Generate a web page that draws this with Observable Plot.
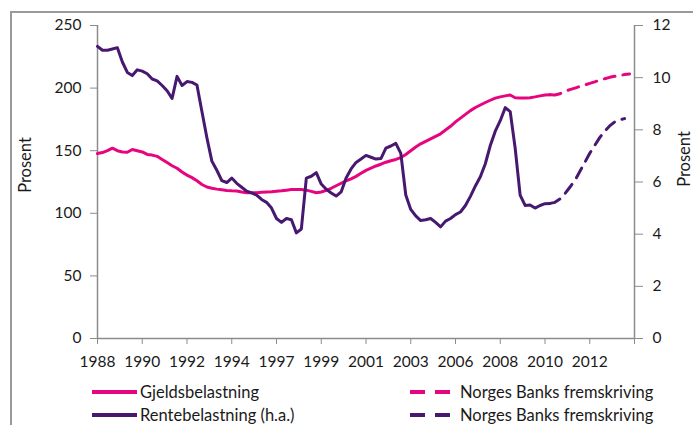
<!DOCTYPE html>
<html>
<head>
<meta charset="utf-8">
<script src="https://cdn.jsdelivr.net/npm/d3@7"></script>
<script src="https://cdn.jsdelivr.net/npm/@observablehq/plot@0.6"></script>
<style>
  body { margin: 0; background: #fff; font-family: Lato, "Open Sans", sans-serif; }
  #wrap { position: relative; width: 693px; height: 425px; overflow: hidden; background: #fff; }
  #frame { position: absolute; left: 10px; top: 11px; width: 720px; height: 440px;
           border-top: 2px solid #9a9a9a; border-left: 2px solid #9a9a9a; pointer-events: none; }
  #chart { position: absolute; left: 0; top: 0; }
  .leg { position: absolute; height: 20px; line-height: 20px; font: 16.5px Lato, sans-serif;
         color: #1a1a1a; display: flex; align-items: center; white-space: nowrap; }
  .leg svg { display: block; }
</style>
</head>
<body>
<div id="wrap">
  <div id="chart"></div>
  <div id="frame"></div>
  <div id="legend"></div>
</div>
<script>
// ---- data (quarterly, from 1988 Q1) ----
const xTickLabels = ["1988","1990","1992","1994","1997","1999","2001","2003","2006","2008","2010","2012"];
const leftTicks = [0, 50, 100, 150, 200, 250];
const rightTicks = [0, 2, 4, 6, 8, 10, 12];

// Gjeldsbelastning (venstre akse), 1988K1 - 2010K4
const gjeld = [147.7, 148.5, 150, 152, 150, 149, 148.8, 151, 150, 149,
  147, 146.5, 145.5, 143, 140.5, 138, 136, 133, 130.5, 128.5,
  126, 123, 121, 120, 119.3, 118.8, 118.3, 118, 117.8, 117,
  116.5, 116.4, 116.5, 116.8, 117, 117.2, 117.6, 118, 118.5, 119,
  119, 119, 118.5, 117.5, 116.4, 117, 118.3, 120, 122, 124,
  126, 127.5, 129.5, 132, 134.3, 136, 137.8, 139.2, 140.8, 142,
  143, 144.5, 147, 150, 153, 155.5, 157.5, 159.5, 161.5, 163.5,
  166.5, 169.5, 173, 176, 179, 182, 184.5, 186.5, 188.5, 190.3,
  192, 193, 193.8, 194.5, 192.3, 192, 192, 192.3, 193, 193.8,
  194.5, 194.7];
// Norges Banks fremskriving, gjeld, 2010K4 - 2014K4
const gjeldFrem = [194.7, 194.5, 195.5, 197.4, 198.8, 200, 201.3, 202.5, 203.8,
  205, 206.3, 207.5, 208.6, 209.4, 210.1, 210.8, 211.3];

// Rentebelastning (høyre akse), 1988K1 - 2010K4
const rente = [11.2, 11.05, 11.05, 11.1, 11.15, 10.6, 10.2, 10.08, 10.3, 10.25,
  10.15, 9.95, 9.88, 9.7, 9.5, 9.2, 10.05, 9.7, 9.85, 9.82,
  9.72, 8.7, 7.7, 6.8, 6.45, 6.05, 5.98, 6.15, 5.95, 5.8,
  5.65, 5.58, 5.5, 5.33, 5.22, 5.0, 4.6, 4.45, 4.6, 4.55,
  4.05, 4.2, 6.15, 6.22, 6.36, 5.92, 5.72, 5.58, 5.46, 5.62,
  6.15, 6.5, 6.75, 6.88, 7.02, 6.95, 6.88, 6.9, 7.3, 7.38,
  7.48, 7.1, 5.5, 4.95, 4.7, 4.52, 4.55, 4.6, 4.45, 4.28,
  4.5, 4.6, 4.75, 4.85, 5.1, 5.45, 5.85, 6.2, 6.7, 7.4,
  7.95, 8.35, 8.85, 8.7, 7.3, 5.5, 5.1, 5.12, 5.0, 5.1,
  5.17, 5.18];
// Norges Banks fremskriving, rente, 2010K4 - 2014K3
const renteFrem = [5.18, 5.22, 5.35, 5.55, 5.8, 6.05, 6.4, 6.75, 7.1, 7.4,
  7.7, 7.95, 8.15, 8.3, 8.38, 8.43];

const forecastStart = 91;   // index of 2010K4
const nQuarters = 108;

// ---- build tables ----
const rightToLeft = r => r * 250 / 12;
const gjeldData = gjeld.map((v, i) => ({i, v}));
const gjeldFremData = gjeldFrem.map((v, k) => ({i: forecastStart + k, v}));
const renteData = rente.map((v, i) => ({i, v: rightToLeft(v)}));
const renteFremData = renteFrem.map((v, k) => ({i: forecastStart + k, v: rightToLeft(v)}));

const pink = "#E6057F";
const purple = "#47186F";
const axisGray = "#8c8c8c";
const ink = "#1a1a1a";

const chart = Plot.plot({
  width: 693,
  height: 375,
  marginLeft: 97,
  marginRight: 59,
  marginTop: 25,
  marginBottom: 37,
  x: {type: "linear", domain: [0, nQuarters]},
  y: {domain: [0, 250]},
  style: {fontFamily: "Lato, sans-serif", fontSize: "15.5px", color: ink, background: "transparent"},
  marks: [
    Plot.ruleX([0], {stroke: axisGray, strokeWidth: 1.5}),
    Plot.ruleX([nQuarters], {stroke: axisGray, strokeWidth: 1.5}),
    Plot.ruleY([0], {stroke: axisGray, strokeWidth: 1.5}),
    Plot.axisY(leftTicks, {anchor: "left", tickSize: 7, tickPadding: 9, stroke: axisGray, fill: ink, label: null}),
    Plot.axisY(rightTicks.map(rightToLeft), {anchor: "right", tickSize: 8, tickPadding: 10, stroke: axisGray, fill: ink,
      tickFormat: d => String(Math.round(d * 12 / 250)), label: null}),
    Plot.axisX(d3.range(0, nQuarters + 1, 9), {anchor: "bottom", tickSize: 6, tickPadding: 11, stroke: axisGray, fill: ink,
      tickFormat: d => xTickLabels[d / 9] ?? "", label: null}),
    Plot.text(["Prosent"], {frameAnchor: "left", textAnchor: "middle", dx: -72, dy: -17, rotate: -90, fill: ink, fontSize: 16.5}),
    Plot.text(["Prosent"], {frameAnchor: "right", textAnchor: "middle", dx: 50, dy: -23, rotate: -90, fill: ink, fontSize: 16.5}),
    Plot.lineY(gjeldData, {x: "i", y: "v", stroke: pink, strokeWidth: 3}),
    Plot.lineY(gjeldFremData, {x: "i", y: "v", stroke: pink, strokeWidth: 3, strokeDasharray: "11,8"}),
    Plot.lineY(renteData, {x: "i", y: "v", stroke: purple, strokeWidth: 3}),
    Plot.lineY(renteFremData, {x: "i", y: "v", stroke: purple, strokeWidth: 3, strokeDasharray: "11,8"})
  ]
});
document.getElementById("chart").appendChild(chart);

// ---- legend ----
const legendItems = [
  {label: "Gjeldsbelastning", color: pink, dashed: false, left: 92, top: 382},
  {label: "Rentebelastning (h.a.)", color: purple, dashed: false, left: 92, top: 405},
  {label: "Norges Banks fremskriving", color: pink, dashed: true, left: 410, top: 382},
  {label: "Norges Banks fremskriving", color: purple, dashed: true, left: 410, top: 405}
];
const legend = document.getElementById("legend");
for (const it of legendItems) {
  const div = document.createElement("div");
  div.className = "leg";
  div.style.left = it.left + "px";
  div.style.top = it.top + "px";
  const w = it.dashed ? 40 : 45;
  const gap = it.dashed ? 10 : 3;
  div.innerHTML = `<svg width="${w}" height="20"><line x1="0" x2="${w}" y1="10" y2="10" stroke="${it.color}" stroke-width="4" ${it.dashed ? 'stroke-dasharray="15,10"' : ''}/></svg><span style="margin-left:${gap}px">${it.label}</span>`;
  legend.appendChild(div);
}
</script>
</body>
</html>
